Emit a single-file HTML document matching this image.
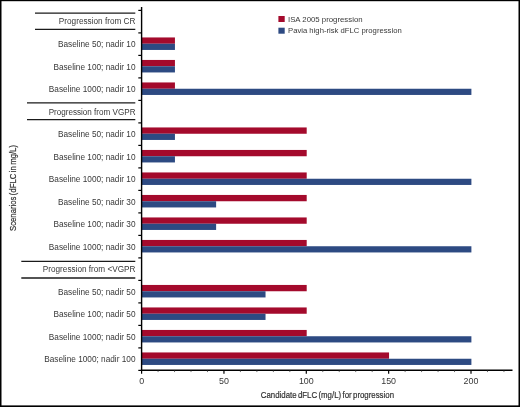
<!DOCTYPE html>
<html><head><meta charset="utf-8"><title>Chart</title>
<style>
html,body{margin:0;padding:0;background:#fff;}
body{width:520px;height:407px;overflow:hidden;}
svg{display:block;will-change:transform;}
text{font-family:"Liberation Sans",sans-serif;fill:#383838;}
</style></head><body>
<svg width="520" height="407" viewBox="0 0 520 407">
<rect x="0" y="0" width="520" height="407" fill="#fff"/>
<rect x="0" y="0" width="520" height="1.2" fill="#000"/>
<rect x="0" y="0" width="1.5" height="407" fill="#000"/>
<rect x="518.5" y="0" width="1.5" height="407" fill="#000"/>
<rect x="0" y="405.4" width="520" height="1.6" fill="#000"/>
<text x="135.5" y="24.3" font-size="8.3" text-anchor="end" textLength="76.7" lengthAdjust="spacingAndGlyphs">Progression from CR</text>
<line x1="35" x2="135.3" y1="13.1" y2="13.1" stroke="#1a1a1a" stroke-width="1.3"/>
<line x1="35" x2="135.3" y1="29.4" y2="29.4" stroke="#1a1a1a" stroke-width="1.3"/>
<rect x="141.6" y="37.45" width="33.34" height="6.3" fill="#a40a2c"/>
<rect x="141.6" y="43.75" width="33.34" height="6.2" fill="#2d4a82"/>
<text x="135.5" y="47.30" font-size="8.25" text-anchor="end">Baseline 50; nadir 10</text>
<rect x="141.6" y="59.95" width="33.34" height="6.3" fill="#a40a2c"/>
<rect x="141.6" y="66.25" width="33.34" height="6.2" fill="#2d4a82"/>
<text x="135.5" y="69.80" font-size="8.25" text-anchor="end">Baseline 100; nadir 10</text>
<rect x="141.6" y="82.45" width="33.34" height="6.3" fill="#a40a2c"/>
<rect x="141.6" y="88.75" width="329.80" height="6.2" fill="#2d4a82"/>
<text x="135.5" y="92.30" font-size="8.25" text-anchor="end">Baseline 1000; nadir 10</text>
<text x="135.5" y="114.6" font-size="8.3" text-anchor="end" textLength="86.8" lengthAdjust="spacingAndGlyphs">Progression from VGPR</text>
<line x1="27" x2="135.3" y1="102.9" y2="102.9" stroke="#1a1a1a" stroke-width="1.3"/>
<line x1="27" x2="135.3" y1="119.6" y2="119.6" stroke="#1a1a1a" stroke-width="1.3"/>
<rect x="141.6" y="127.45" width="165.10" height="6.3" fill="#a40a2c"/>
<rect x="141.6" y="133.75" width="33.34" height="6.2" fill="#2d4a82"/>
<text x="135.5" y="137.30" font-size="8.25" text-anchor="end">Baseline 50; nadir 10</text>
<rect x="141.6" y="149.95" width="165.10" height="6.3" fill="#a40a2c"/>
<rect x="141.6" y="156.25" width="33.34" height="6.2" fill="#2d4a82"/>
<text x="135.5" y="159.80" font-size="8.25" text-anchor="end">Baseline 100; nadir 10</text>
<rect x="141.6" y="172.45" width="165.10" height="6.3" fill="#a40a2c"/>
<rect x="141.6" y="178.75" width="329.80" height="6.2" fill="#2d4a82"/>
<text x="135.5" y="182.30" font-size="8.25" text-anchor="end">Baseline 1000; nadir 10</text>
<rect x="141.6" y="194.95" width="165.10" height="6.3" fill="#a40a2c"/>
<rect x="141.6" y="201.25" width="74.52" height="6.2" fill="#2d4a82"/>
<text x="135.5" y="204.80" font-size="8.25" text-anchor="end">Baseline 50; nadir 30</text>
<rect x="141.6" y="217.45" width="165.10" height="6.3" fill="#a40a2c"/>
<rect x="141.6" y="223.75" width="74.52" height="6.2" fill="#2d4a82"/>
<text x="135.5" y="227.30" font-size="8.25" text-anchor="end">Baseline 100; nadir 30</text>
<rect x="141.6" y="239.95" width="165.10" height="6.3" fill="#a40a2c"/>
<rect x="141.6" y="246.25" width="329.80" height="6.2" fill="#2d4a82"/>
<text x="135.5" y="249.80" font-size="8.25" text-anchor="end">Baseline 1000; nadir 30</text>
<text x="135.5" y="272.2" font-size="8.3" text-anchor="end" textLength="92.7" lengthAdjust="spacingAndGlyphs">Progression from &lt;VGPR</text>
<line x1="21.3" x2="135.3" y1="261.3" y2="261.3" stroke="#1a1a1a" stroke-width="1.3"/>
<line x1="21.3" x2="135.3" y1="278.0" y2="278.0" stroke="#1a1a1a" stroke-width="1.3"/>
<rect x="141.6" y="284.95" width="165.10" height="6.3" fill="#a40a2c"/>
<rect x="141.6" y="291.25" width="123.93" height="6.2" fill="#2d4a82"/>
<text x="135.5" y="294.80" font-size="8.25" text-anchor="end">Baseline 50; nadir 50</text>
<rect x="141.6" y="307.45" width="165.10" height="6.3" fill="#a40a2c"/>
<rect x="141.6" y="313.75" width="123.93" height="6.2" fill="#2d4a82"/>
<text x="135.5" y="317.30" font-size="8.25" text-anchor="end">Baseline 100; nadir 50</text>
<rect x="141.6" y="329.95" width="165.10" height="6.3" fill="#a40a2c"/>
<rect x="141.6" y="336.25" width="329.80" height="6.2" fill="#2d4a82"/>
<text x="135.5" y="339.80" font-size="8.25" text-anchor="end">Baseline 1000; nadir 50</text>
<rect x="141.6" y="352.45" width="247.45" height="6.3" fill="#a40a2c"/>
<rect x="141.6" y="358.75" width="329.80" height="6.2" fill="#2d4a82"/>
<text x="135.5" y="362.30" font-size="8.25" text-anchor="end">Baseline 1000; nadir 100</text>
<line x1="141.6" x2="141.6" y1="7" y2="370.95" stroke="#000" stroke-width="1.4"/>
<line x1="140.9" x2="512.5" y1="370.25" y2="370.25" stroke="#000" stroke-width="1.4"/>
<line x1="138.29999999999998" x2="141.6" y1="10.40" y2="10.40" stroke="#000" stroke-width="1.2"/>
<line x1="138.29999999999998" x2="141.6" y1="32.90" y2="32.90" stroke="#000" stroke-width="1.2"/>
<line x1="138.29999999999998" x2="141.6" y1="55.40" y2="55.40" stroke="#000" stroke-width="1.2"/>
<line x1="138.29999999999998" x2="141.6" y1="77.90" y2="77.90" stroke="#000" stroke-width="1.2"/>
<line x1="138.29999999999998" x2="141.6" y1="100.40" y2="100.40" stroke="#000" stroke-width="1.2"/>
<line x1="138.29999999999998" x2="141.6" y1="122.90" y2="122.90" stroke="#000" stroke-width="1.2"/>
<line x1="138.29999999999998" x2="141.6" y1="145.40" y2="145.40" stroke="#000" stroke-width="1.2"/>
<line x1="138.29999999999998" x2="141.6" y1="167.90" y2="167.90" stroke="#000" stroke-width="1.2"/>
<line x1="138.29999999999998" x2="141.6" y1="190.40" y2="190.40" stroke="#000" stroke-width="1.2"/>
<line x1="138.29999999999998" x2="141.6" y1="212.90" y2="212.90" stroke="#000" stroke-width="1.2"/>
<line x1="138.29999999999998" x2="141.6" y1="235.40" y2="235.40" stroke="#000" stroke-width="1.2"/>
<line x1="138.29999999999998" x2="141.6" y1="257.90" y2="257.90" stroke="#000" stroke-width="1.2"/>
<line x1="138.29999999999998" x2="141.6" y1="280.40" y2="280.40" stroke="#000" stroke-width="1.2"/>
<line x1="138.29999999999998" x2="141.6" y1="302.90" y2="302.90" stroke="#000" stroke-width="1.2"/>
<line x1="138.29999999999998" x2="141.6" y1="325.40" y2="325.40" stroke="#000" stroke-width="1.2"/>
<line x1="138.29999999999998" x2="141.6" y1="347.90" y2="347.90" stroke="#000" stroke-width="1.2"/>
<line x1="138.29999999999998" x2="141.6" y1="370.40" y2="370.40" stroke="#000" stroke-width="1.2"/>
<line x1="141.60" x2="141.60" y1="370.25" y2="373.65" stroke="#000" stroke-width="1.2"/>
<text x="141.60" y="383.8" font-size="8.9" text-anchor="middle">0</text>
<line x1="158.07" x2="158.07" y1="370.25" y2="372.05" stroke="#333" stroke-width="0.7"/>
<line x1="174.54" x2="174.54" y1="370.25" y2="372.05" stroke="#333" stroke-width="0.7"/>
<line x1="191.01" x2="191.01" y1="370.25" y2="372.05" stroke="#333" stroke-width="0.7"/>
<line x1="207.48" x2="207.48" y1="370.25" y2="372.05" stroke="#333" stroke-width="0.7"/>
<line x1="223.95" x2="223.95" y1="370.25" y2="373.65" stroke="#000" stroke-width="1.2"/>
<text x="223.95" y="383.8" font-size="8.9" text-anchor="middle">50</text>
<line x1="240.42" x2="240.42" y1="370.25" y2="372.05" stroke="#333" stroke-width="0.7"/>
<line x1="256.89" x2="256.89" y1="370.25" y2="372.05" stroke="#333" stroke-width="0.7"/>
<line x1="273.36" x2="273.36" y1="370.25" y2="372.05" stroke="#333" stroke-width="0.7"/>
<line x1="289.83" x2="289.83" y1="370.25" y2="372.05" stroke="#333" stroke-width="0.7"/>
<line x1="306.30" x2="306.30" y1="370.25" y2="373.65" stroke="#000" stroke-width="1.2"/>
<text x="306.30" y="383.8" font-size="8.9" text-anchor="middle">100</text>
<line x1="322.77" x2="322.77" y1="370.25" y2="372.05" stroke="#333" stroke-width="0.7"/>
<line x1="339.24" x2="339.24" y1="370.25" y2="372.05" stroke="#333" stroke-width="0.7"/>
<line x1="355.71" x2="355.71" y1="370.25" y2="372.05" stroke="#333" stroke-width="0.7"/>
<line x1="372.18" x2="372.18" y1="370.25" y2="372.05" stroke="#333" stroke-width="0.7"/>
<line x1="388.65" x2="388.65" y1="370.25" y2="373.65" stroke="#000" stroke-width="1.2"/>
<text x="388.65" y="383.8" font-size="8.9" text-anchor="middle">150</text>
<line x1="405.12" x2="405.12" y1="370.25" y2="372.05" stroke="#333" stroke-width="0.7"/>
<line x1="421.59" x2="421.59" y1="370.25" y2="372.05" stroke="#333" stroke-width="0.7"/>
<line x1="438.06" x2="438.06" y1="370.25" y2="372.05" stroke="#333" stroke-width="0.7"/>
<line x1="454.53" x2="454.53" y1="370.25" y2="372.05" stroke="#333" stroke-width="0.7"/>
<line x1="471.00" x2="471.00" y1="370.25" y2="373.65" stroke="#000" stroke-width="1.2"/>
<text x="471.00" y="383.8" font-size="8.9" text-anchor="middle">200</text>
<line x1="487.47" x2="487.47" y1="370.25" y2="372.05" stroke="#333" stroke-width="0.7"/>
<line x1="503.94" x2="503.94" y1="370.25" y2="372.05" stroke="#333" stroke-width="0.7"/>
<rect x="278.4" y="16.0" width="6.3" height="6" fill="#a40a2c"/>
<rect x="278.4" y="27.7" width="6.3" height="6" fill="#2d4a82"/>
<text x="288.0" y="21.7" font-size="7.8">ISA 2005 progression</text>
<text x="288.0" y="33.4" font-size="7.8" textLength="113.7" lengthAdjust="spacingAndGlyphs">Pavia high-risk dFLC progression</text>
<text x="260.8" y="397.8" font-size="9.9" word-spacing="-1" fill="#1c1c1c" stroke="#1c1c1c" stroke-width="0.2" textLength="133.2" lengthAdjust="spacingAndGlyphs">Candidate dFLC (mg/L) for progression</text>
<text transform="translate(16.1,231) rotate(-90)" font-size="9.9" word-spacing="-1" fill="#1c1c1c" stroke="#1c1c1c" stroke-width="0.2" textLength="86" lengthAdjust="spacingAndGlyphs">Scenarios (dFLC in mg/L)</text>
</svg></body></html>
